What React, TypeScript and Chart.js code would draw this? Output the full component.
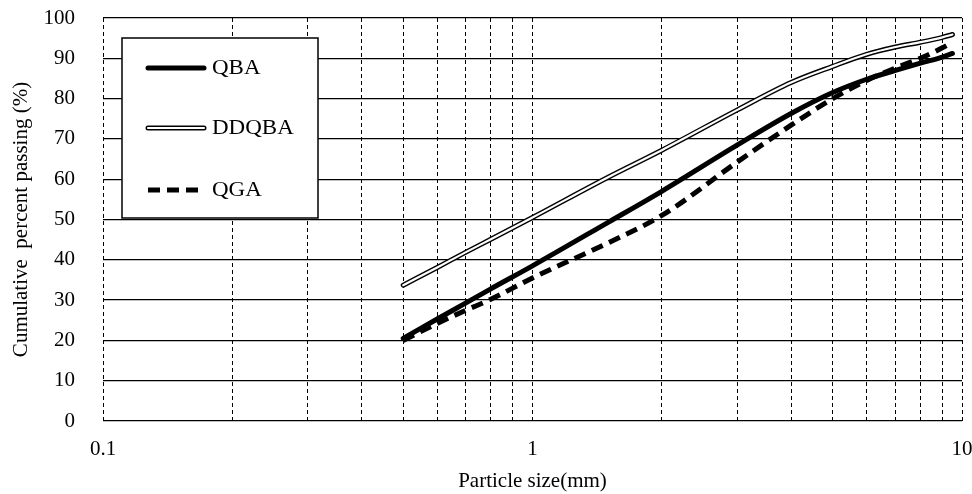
import React, { useEffect, useRef } from "react";
import { Chart, registerables } from "chart.js";
Chart.register(...registerables);

// Particle sizes (mm)
const sizes = [0.5, 0.6, 0.7, 0.8, 1, 1.5, 2, 3, 4, 5, 6, 7, 8, 9, 9.5];
// Cumulative percent passing (%)
const qba = [20.5, 25.3, 29.3, 32.8, 38.5, 49.3, 57, 68.5, 76.3, 81.5, 84.8, 87, 88.8, 90.3, 91.2];
const ddqba = [33.7, 38.1, 41.9, 45.1, 50.5, 60.5, 67.2, 77.2, 84, 88, 91, 92.8, 94, 95.2, 95.9];
const qga = [20, 24.2, 27.5, 30.2, 35.5, 44.2, 51, 64.3, 73.4, 80, 84.5, 87.6, 90, 92.6, 94];

const xGridValues = [0.1, 0.2, 0.3, 0.4, 0.5, 0.6, 0.7, 0.8, 0.9, 1, 2, 3, 4, 5, 6, 7, 8, 9, 10];
const xLabelValues = [0.1, 1, 10];
const legendLabels = ["QBA", "DDQBA", "QGA"];

const FONT = "'Liberation Serif', 'Times New Roman', serif";

const legendPlugin = {
  id: "boxLegend",
  afterDatasetsDraw(chart: any) {
    const ctx = chart.ctx;
    const { left, top } = chart.chartArea;
    const bx = left + 19;
    const by = top + 20;
    const bw = 196;
    const bh = 180;
    ctx.save();
    ctx.fillStyle = "#fff";
    ctx.fillRect(bx, by, bw, bh);
    ctx.strokeStyle = "#000";
    ctx.lineWidth = 1.5;
    ctx.strokeRect(bx, by, bw, bh);
    const rows = [by + 30, by + 90, by + 152];
    const x0 = bx + 26;
    const x1 = bx + 82;
    ctx.lineCap = "round";
    ctx.strokeStyle = "#000";
    ctx.lineWidth = 5;
    ctx.beginPath(); ctx.moveTo(x0, rows[0]); ctx.lineTo(x1, rows[0]); ctx.stroke();
    ctx.lineWidth = 5;
    ctx.beginPath(); ctx.moveTo(x0, rows[1]); ctx.lineTo(x1, rows[1]); ctx.stroke();
    ctx.strokeStyle = "#fff";
    ctx.lineWidth = 2.2;
    ctx.beginPath(); ctx.moveTo(x0, rows[1]); ctx.lineTo(x1, rows[1]); ctx.stroke();
    ctx.strokeStyle = "#000";
    ctx.lineWidth = 5;
    ctx.lineCap = "butt";
    ctx.setLineDash([12, 7]);
    ctx.beginPath(); ctx.moveTo(x0, rows[2]); ctx.lineTo(x1, rows[2]); ctx.stroke();
    ctx.setLineDash([]);
    ctx.fillStyle = "#000";
    ctx.font = `20px ${FONT}`;
    ctx.textBaseline = "middle";
    ctx.textAlign = "left";
    legendLabels.forEach((t, i) => {
      ctx.save();
      ctx.translate(x1 + 8, rows[i] + 1);
      ctx.scale(1.15, 1);
      ctx.fillText(t, 0, 0);
      ctx.restore();
    });
    ctx.restore();
  },
};

export default function App() {
  const ref = useRef<HTMLCanvasElement>(null);
  useEffect(() => {
    if (!ref.current) return;
    const mk = (d: number[]) => sizes.map((s, i) => ({ x: s, y: d[i] }));
    const common = {
      pointRadius: 0,
      fill: false,
      cubicInterpolationMode: "monotone" as const,
      borderCapStyle: "round" as const,
    };
    const chart = new Chart(ref.current, {
      type: "line",
      data: {
        datasets: [
          { ...common, label: "DDQBA-inner", data: mk(ddqba), borderColor: "#fff", borderWidth: 2.2, order: 0 },
          { ...common, label: "DDQBA", data: mk(ddqba), borderColor: "#000", borderWidth: 5, order: 1 },
          { ...common, label: "QBA", data: mk(qba), borderColor: "#000", borderWidth: 5, order: 2 },
          { ...common, label: "QGA", data: mk(qga), borderColor: "#000", borderWidth: 5, borderDash: [12, 7], borderCapStyle: "butt", order: 3 },
        ],
      },
      options: {
        animation: false,
        responsive: false,
        layout: { padding: { top: 18, right: 10, left: 0, bottom: 0 } },
        plugins: { legend: { display: false }, tooltip: { enabled: false } },
        scales: {
          x: {
            type: "logarithmic",
            min: 0.1,
            max: 10,
            afterBuildTicks: (s: any) => {
              s.ticks = xGridValues.map((v) => ({ value: v }));
            },
            afterFit: (s: any) => {
              s.height = 73;
              s.paddingLeft = 0;
              s.paddingRight = 0;
              s.paddingTop = 0;
              s.paddingBottom = 0;
            },
            ticks: {
              autoSkip: false,
              maxRotation: 0,
              padding: 16,
              color: "#000",
              font: { family: FONT, size: 21 },
              callback: (v: any) => (xLabelValues.includes(Number(v)) ? String(Number(v)) : ""),
            },
            grid: { color: "#000", lineWidth: 1, drawTicks: false },
            border: { display: false, dash: [4, 3] },
            title: {
              display: true,
              text: "Particle size(mm)",
              color: "#000",
              font: { family: FONT, size: 21 },
              padding: { top: 0, bottom: 0 },
            },
          },
          y: {
            min: 0,
            max: 100,
            afterFit: (s: any) => {
              s.width = 103;
              s.paddingLeft = 0;
              s.paddingRight = 0;
              s.paddingTop = 0;
              s.paddingBottom = 0;
            },
            ticks: {
              stepSize: 10,
              padding: 28,
              color: "#000",
              font: { family: FONT, size: 21 },
            },
            grid: { color: "#000", lineWidth: 1.3, drawTicks: false },
            border: { display: false },
            title: {
              display: true,
              text: "Cumulative  percent passing (%)",
              color: "#000",
              font: { family: FONT, size: 21 },
              padding: { top: 9, bottom: 0 },
            },
          },
        },
      },
      plugins: [legendPlugin],
    } as any);
    return () => chart.destroy();
  }, []);
  return (
    <div style={{ position: "absolute", left: 0, top: 0, width: 972, height: 494, background: "#fff" }}>
      <canvas ref={ref} width={972} height={494} style={{ display: "block" }} />
    </div>
  );
}
